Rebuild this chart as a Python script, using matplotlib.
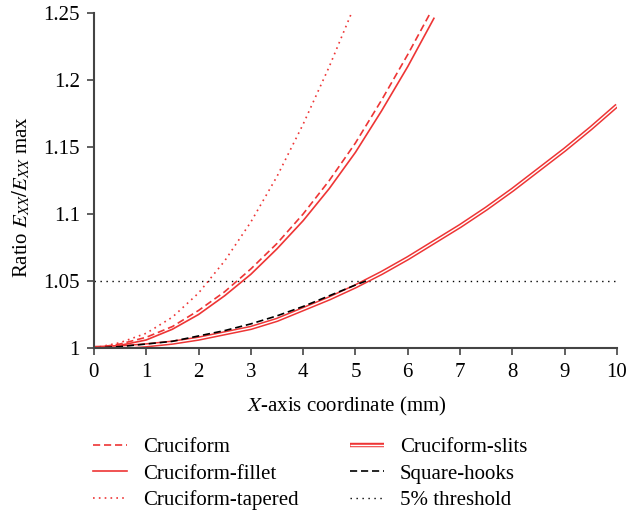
import matplotlib
matplotlib.use("Agg")
import matplotlib.pyplot as plt
import matplotlib.patheffects as pe

plt.rcParams['font.family'] = ['Liberation Serif', 'DejaVu Serif']
plt.rcParams['mathtext.fontset'] = 'stix'

# values
x_half = [0, 0.5, 1, 1.5, 2, 2.5, 3, 3.5, 4, 4.5, 5, 5.5, 6, 6.5, 7, 7.5, 8, 8.5, 9, 9.5, 10]

cruciform = [1.000, 1.003, 1.008, 1.016, 1.028, 1.042, 1.059, 1.078, 1.100, 1.125,
             1.153, 1.185, 1.219, 1.255]
fillet = [1.000, 1.002, 1.006, 1.014, 1.025, 1.039, 1.055, 1.074, 1.095, 1.119,
          1.146, 1.177, 1.210, 1.246]
tapered = [1.000, 1.004, 1.011, 1.023, 1.041, 1.065, 1.094, 1.128, 1.167, 1.210, 1.257]
slits = [1.000, 1.0005, 1.002, 1.004, 1.007, 1.011, 1.015, 1.021, 1.029, 1.037, 1.046,
         1.056, 1.067, 1.079, 1.091, 1.104, 1.118, 1.133, 1.148, 1.164, 1.181]
hooks_x = [0, 0.5, 1, 1.5, 2, 2.5, 3, 3.5, 4, 4.5, 5, 5.2]
hooks = [1.000, 1.001, 1.003, 1.005, 1.009, 1.013, 1.018, 1.024, 1.031, 1.039, 1.047, 1.050]
threshold = 1.05

yticks = [1, 1.05, 1.1, 1.15, 1.2, 1.25]
ytick_labels = ['1', '1.05', '1.1', '1.15', '1.2', '1.25']

red = '#ee3535'
spine = '#444444'
fs = 15

fig = plt.figure(figsize=(6.26, 5.13), dpi=100)
ax = fig.add_axes([0.150, 0.3216, 0.8356, 0.6531])

thr, = ax.plot([0, 10], [threshold, threshold], color='black', lw=1.0,
               linestyle=(0, (1, 3.3)))
tap, = ax.plot(x_half[:len(tapered)], tapered, color=red, lw=1.2,
               linestyle=(0, (1, 2.5)))
cru, = ax.plot(x_half[:len(cruciform)], cruciform, color=red, lw=1.2,
               linestyle=(0, (4.3, 2.3)))
fil, = ax.plot(x_half[:len(fillet)], fillet, color=red, lw=1.2)
# double line: white core with red outline
sl, = ax.plot(x_half, slits, color='white', lw=1.0, solid_capstyle='butt',
              path_effects=[pe.Stroke(linewidth=3.2, foreground=red), pe.Normal()])
hk, = ax.plot(hooks_x, hooks, color='black', lw=1.2, linestyle=(0, (4.3, 2.3)))

ax.set_xlim(0, 10)
ax.set_ylim(1, 1.25)
ax.set_xticks(range(0, 11))
ax.set_yticks(yticks)
ax.set_yticklabels(ytick_labels)

for s in ['top', 'right']:
    ax.spines[s].set_visible(False)
for s in ['left', 'bottom']:
    ax.spines[s].set_color(spine)
    ax.spines[s].set_linewidth(1.5)
ax.tick_params(direction='out', length=5, width=1.2, color=spine, labelsize=fs)
ax.tick_params(axis='x', pad=6)
ax.tick_params(axis='y', pad=5)

ax.set_xlabel('$X$-axis coordinate (mm)', fontsize=fs)
ax.set_ylabel('Ratio $E_{XX}/E_{XX}$ max', fontsize=fs)
ax.xaxis.set_label_coords(0.484, -0.14)
ax.yaxis.set_label_coords(-0.118, 0.45)

leg_kw = dict(loc='upper left', frameon=False, fontsize=fs, handlelength=1.65,
              handletextpad=0.75, labelspacing=0.33, borderpad=0, borderaxespad=0)
fig.legend([cru, fil, tap], ['Cruciform', 'Cruciform-fillet', 'Cruciform-tapered'],
           bbox_to_anchor=(0.1486, 0.147), **leg_kw)
fig.legend([sl, hk, thr], ['Cruciform-slits', 'Square-hooks', '5% threshold'],
           bbox_to_anchor=(0.559, 0.147), **leg_kw)

fig.savefig('out.png', dpi=100)
